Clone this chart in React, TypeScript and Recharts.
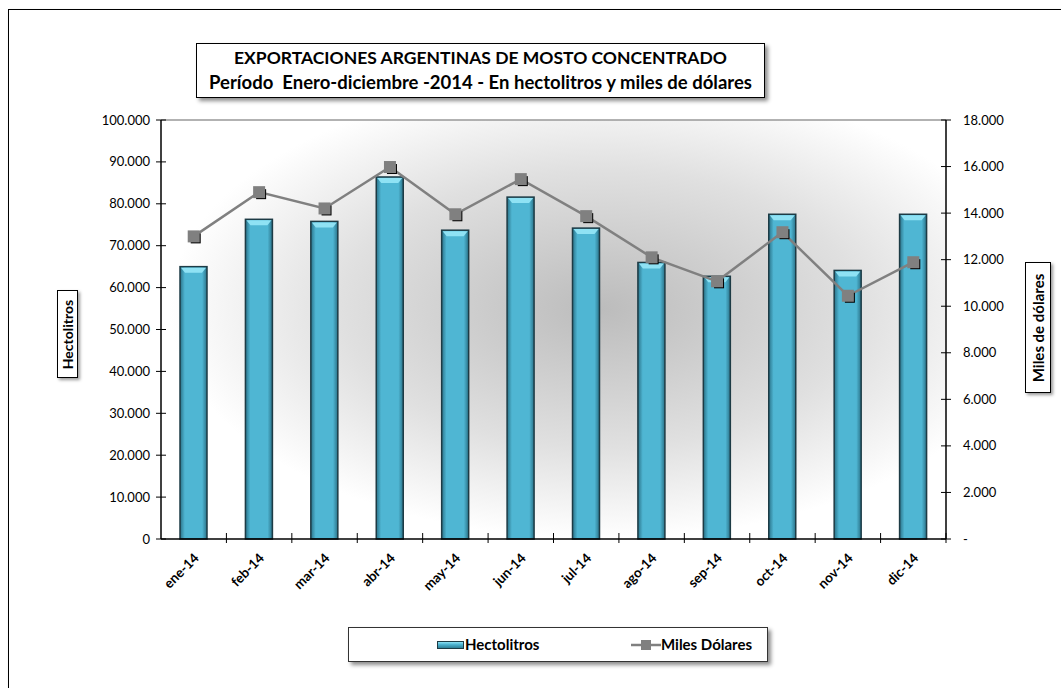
import React from "react";
import {
  ComposedChart, Bar, Line, XAxis, YAxis, CartesianGrid, ReferenceLine, Legend,
} from "recharts";

const meses = ["ene-14", "feb-14", "mar-14", "abr-14", "may-14", "jun-14", "jul-14", "ago-14", "sep-14", "oct-14", "nov-14", "dic-14"];
const hectolitros = [65000, 76300, 75800, 86400, 73700, 81600, 74200, 66000, 62700, 77500, 64100, 77500];
const milesDolares = [13000, 14900, 14200, 15980, 13950, 15460, 13870, 12100, 11070, 13180, 10450, 11890];
const ticksHl = [0, 10000, 20000, 30000, 40000, 50000, 60000, 70000, 80000, 90000, 100000];
const ticksUsd = [0, 2000, 4000, 6000, 8000, 10000, 12000, 14000, 16000, 18000];

const data = meses.map((mes, i) => ({ mes, hectolitros: hectolitros[i], milesDolares: milesDolares[i] }));

const FONT = "Lato, 'Open Sans', sans-serif";

// bordes del área de trazado
const AX_L = 161;
const AX_R = 946;
const AX_B = 538;
const HALF_CAT = (AX_R - AX_L) / meses.length / 2;

// miles con punto, estilo es-AR
const fmt = (v: number) => String(v).replace(/\B(?=(\d{3})+(?!\d))/g, ".");

const BevelBar = (props: any) => {
  const { x, y, width, height } = props;
  if (!height) return null;
  return (
    <g>
      <rect x={x} y={y} width={width} height={height} fill="url(#barGrad)" stroke="#1d3b45" strokeWidth={1.5} />
      <polygon
        points={`${x + 1},${y + 1} ${x + width - 1},${y + 1} ${x + width - 5},${y + 6} ${x + 5},${y + 6}`}
        fill="#8fe2f4"
      />
    </g>
  );
};

const SquareDot = (props: any) => {
  const { cx, cy } = props;
  if (cx == null || cy == null) return null;
  return (
    <g>
      <rect x={cx - 3} y={cy - 3} width={10} height={10} fill="#000" />
      <rect x={cx - 6} y={cy - 6} width={12} height={12} fill="#808080" />
    </g>
  );
};

const XTick = ({ x, payload }: any) => (
  <g>
    <line x1={x + HALF_CAT} x2={x + HALF_CAT} y1={AX_B - 5} y2={AX_B + 5} stroke="#000" />
    <g transform={`translate(${x + 6},${AX_B + 21})`}>
      <text textAnchor="end" transform="rotate(-45)" fontSize={13.5} fontWeight="bold" fill="#000" fontFamily={FONT}>
        {payload.value}
      </text>
    </g>
  </g>
);

const LeftTick = ({ y, payload }: any) => (
  <g>
    <line x1={AX_L - 5} x2={AX_L + 5} y1={y} y2={y} stroke="#000" />
    <text x={AX_L - 11} y={y} dy="0.35em" textAnchor="end" fontSize={13} fill="#000" fontFamily={FONT}>
      {fmt(payload.value)}
    </text>
  </g>
);

const RightTick = ({ y, payload }: any) => (
  <g>
    <line x1={AX_R - 5} x2={AX_R + 5} y1={y} y2={y} stroke="#000" />
    <text x={AX_R + 17} y={y} dy="0.35em" textAnchor="start" fontSize={13} fill="#000" fontFamily={FONT}>
      {payload.value === 0 ? "-" : fmt(payload.value)}
    </text>
  </g>
);

const LegendBox = () => (
  <div
    style={{
      width: 420, height: 35, boxSizing: "border-box", border: "1px solid #333", background: "#fff",
      boxShadow: "3px 3px 4px rgba(0,0,0,0.45)", fontFamily: FONT, fontWeight: "bold", fontSize: 15,
      position: "relative",
    }}
  >
    <div style={{ position: "absolute", left: 88, top: 13, width: 27, height: 8, background: "linear-gradient(#8fe2f4, #4fb6d3 40%, #2d7f96)", border: "1px solid #1d3b45", boxSizing: "border-box" }} />
    <div style={{ position: "absolute", left: 116, top: 7 }}>Hectolitros</div>
    <svg style={{ position: "absolute", left: 282, top: 10 }} width={30} height={14}>
      <line x1={0} y1={7} x2={30} y2={7} stroke="#808080" strokeWidth={2.5} />
      <rect x={10} y={2} width={10} height={10} fill="#808080" />
    </svg>
    <div style={{ position: "absolute", left: 312, top: 7 }}>Miles Dólares</div>
  </div>
);

export default function App() {
  return (
    <div style={{ position: "absolute", left: 0, top: 0, width: 1061, height: 688, background: "#fff", overflow: "hidden", fontFamily: FONT }}>
      <div style={{ position: "absolute", left: 8, top: 9, width: 1100, height: 720, border: "1px solid #000", boxShadow: "2px 2px 3px rgba(0,0,0,0.35)" }} />
      <div style={{ position: "absolute", left: 0, top: 0 }}>
        <ComposedChart width={1061} height={688} data={data} margin={{ top: 120, right: 55, bottom: 64, left: 81 }}>
          <defs>
            <radialGradient id="plotBg" cx="0.56" cy="0.45" r="0.55">
              <stop offset="0%" stopColor="#bcbcbc" />
              <stop offset="60%" stopColor="#e0e0e0" />
              <stop offset="100%" stopColor="#ffffff" />
            </radialGradient>
            <linearGradient id="barGrad" x1="0" y1="0" x2="1" y2="0">
              <stop offset="0%" stopColor="#2a7288" />
              <stop offset="18%" stopColor="#4fb6d3" />
              <stop offset="82%" stopColor="#4fb6d3" />
              <stop offset="100%" stopColor="#2a7288" />
            </linearGradient>
          </defs>
          <CartesianGrid yAxisId="left" horizontal={false} vertical={false} fill="url(#plotBg)" stroke="none" />
          <XAxis
            dataKey="mes" interval={0} height={50} tick={<XTick />} tickLine={false}
            axisLine={{ stroke: "#000", strokeWidth: 1.5 }}
          />
          <YAxis
            yAxisId="left" domain={[0, 100000]} ticks={ticksHl} width={80} tick={<LeftTick />}
            tickLine={false} axisLine={{ stroke: "#000", strokeWidth: 1.5 }}
          />
          <YAxis
            yAxisId="right" orientation="right" domain={[0, 18000]} ticks={ticksUsd} width={60}
            tick={<RightTick />} tickLine={false} axisLine={{ stroke: "#000", strokeWidth: 1.5 }}
          />
          <ReferenceLine yAxisId="left" y={100000} stroke="#999" strokeWidth={1.5} />
          <Bar yAxisId="left" dataKey="hectolitros" name="Hectolitros" barSize={27} shape={<BevelBar />} isAnimationActive={false} />
          <Line
            yAxisId="right" dataKey="milesDolares" name="Miles Dólares" type="linear" stroke="#808080"
            strokeWidth={2.5} dot={<SquareDot />} activeDot={false} isAnimationActive={false}
          />
          <Legend content={<LegendBox />} wrapperStyle={{ position: "absolute", left: 348, top: 627, width: 420, height: 35, bottom: "auto" }} />
        </ComposedChart>
      </div>
      <div
        style={{
          position: "absolute", left: 196, top: 43, width: 569, height: 55, boxSizing: "border-box",
          border: "1.5px solid #000", background: "#fff", boxShadow: "3px 3px 4px rgba(0,0,0,0.45)",
          textAlign: "center", fontWeight: "bold", lineHeight: "24px", paddingTop: 2, whiteSpace: "nowrap",
        }}
      >
        <div style={{ fontSize: 17.5 }}>EXPORTACIONES ARGENTINAS DE MOSTO CONCENTRADO</div>
        <div style={{ fontSize: 18.5 }}>Período&nbsp; Enero-diciembre -2014 - En hectolitros y miles de dólares</div>
      </div>
      <div
        style={{
          position: "absolute", left: 57, top: 290, width: 21, height: 88, boxSizing: "border-box",
          border: "1px solid #000", background: "#fff", boxShadow: "2px 2px 3px rgba(0,0,0,0.4)",
          display: "flex", alignItems: "center", justifyContent: "center",
        }}
      >
        <div style={{ transform: "rotate(-90deg)", whiteSpace: "nowrap", fontWeight: "bold", fontSize: 14 }}>Hectolitros</div>
      </div>
      <div
        style={{
          position: "absolute", left: 1025, top: 262, width: 26, height: 131, boxSizing: "border-box",
          border: "1px solid #000", background: "#fff", boxShadow: "2px 2px 3px rgba(0,0,0,0.4)",
          display: "flex", alignItems: "center", justifyContent: "center",
        }}
      >
        <div style={{ transform: "rotate(-90deg)", whiteSpace: "nowrap", fontWeight: "bold", fontSize: 15 }}>Miles de dólares</div>
      </div>
    </div>
  );
}
